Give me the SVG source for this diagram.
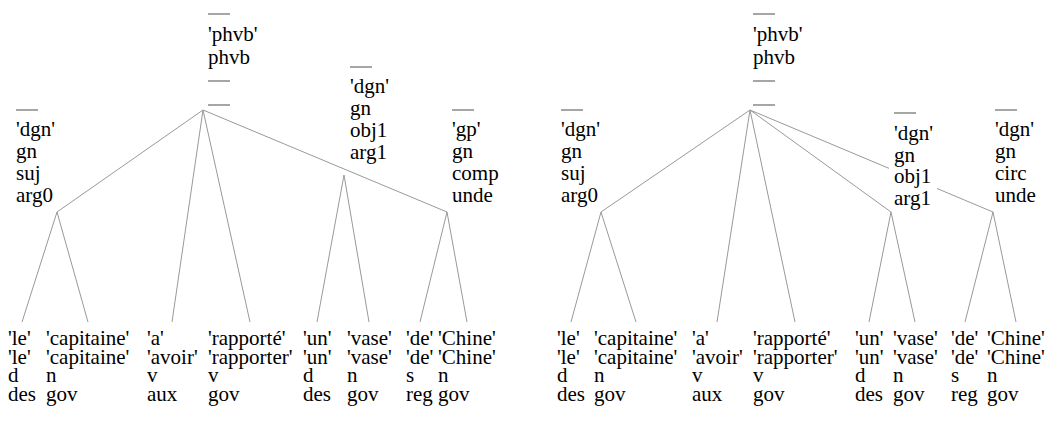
<svg xmlns="http://www.w3.org/2000/svg" width="1046" height="429" viewBox="0 0 1046 429">
  <style>
    text { font-family: "Liberation Serif", "Times New Roman", serif; font-size: 21px; fill: #000; }
    .edge { stroke: #999; stroke-width: 1; fill: none; }
    .bar { stroke: #888; stroke-width: 1.5; }
    .bg { fill: #fff; }
  </style>
  <rect width="1046" height="429" fill="#fff"/>

  <!-- tree edges: each leaf hangs from the middle of its label block -->
  <g id="connectors">
    <!-- left tree -->
    <path class="edge" d="M203,110 L57,212 M203,110 L172,322 M203,110 L250,322 M203,110 L447,212"/>
    <path class="edge" d="M57,212 L22,322 M57,212 L88,322"/>
    <path class="edge" d="M344,175 L317,322 M344,175 L369,322"/>
    <path class="edge" d="M447,212 L420,322 M447,212 L467,322"/>
    <!-- right tree -->
    <path class="edge" d="M750,110 L601,212 M750,110 L717,322 M750,110 L795,322 M750,110 L891,212 M750,110 L993,212"/>
    <path class="edge" d="M601,212 L571,322 M601,212 L636,322"/>
    <path class="edge" d="M891,212 L869,322 M891,212 L915,322"/>
    <path class="edge" d="M993,212 L965,322 M993,212 L1016,322"/>
  </g>

  <!-- left tree: inner nodes -->
  <g id="L-phvb">
    <line class="bar" x1="208" y1="14" x2="230" y2="14"/>
    <text x="208" y="41">'phvb'<tspan x="208" dy="23">phvb</tspan></text>
    <line class="bar" x1="208" y1="81" x2="230" y2="81"/>
    <line class="bar" x1="208" y1="105" x2="230" y2="105"/>
  </g>
  <g id="L-dgn-suj">
    <line class="bar" x1="16" y1="110" x2="38" y2="110"/>
    <text x="16" y="136">'dgn'<tspan x="16" dy="22">gn</tspan><tspan x="16" dy="22">suj</tspan><tspan x="16" dy="22">arg0</tspan></text>
  </g>
  <g id="L-dgn-obj1">
    <line class="bar" x1="350" y1="67" x2="372" y2="67"/>
    <text x="350" y="93">'dgn'<tspan x="350" dy="22">gn</tspan><tspan x="350" dy="22">obj1</tspan><tspan x="350" dy="22">arg1</tspan></text>
  </g>
  <g id="L-gp-comp">
    <line class="bar" x1="452" y1="110" x2="474" y2="110"/>
    <text x="452" y="136">'gp'<tspan x="452" dy="22">gn</tspan><tspan x="452" dy="22">comp</tspan><tspan x="452" dy="22">unde</tspan></text>
  </g>

  <!-- left tree: leaves -->
  <g id="L-le"><text x="8" y="345">'le'<tspan x="8" dy="18.5">'le'</tspan><tspan x="8" dy="18.5">d</tspan><tspan x="8" dy="18.5">des</tspan></text></g>
  <g id="L-capitaine"><text x="46" y="345">'capitaine'<tspan x="46" dy="18.5">'capitaine'</tspan><tspan x="46" dy="18.5">n</tspan><tspan x="46" dy="18.5">gov</tspan></text></g>
  <g id="L-a"><text x="147" y="345">'a'<tspan x="147" dy="18.5">'avoir'</tspan><tspan x="147" dy="18.5">v</tspan><tspan x="147" dy="18.5">aux</tspan></text></g>
  <g id="L-rapporte"><text x="208" y="345">'rapporté'<tspan x="208" dy="18.5">'rapporter'</tspan><tspan x="208" dy="18.5">v</tspan><tspan x="208" dy="18.5">gov</tspan></text></g>
  <g id="L-un"><text x="303" y="345">'un'<tspan x="303" dy="18.5">'un'</tspan><tspan x="303" dy="18.5">d</tspan><tspan x="303" dy="18.5">des</tspan></text></g>
  <g id="L-vase"><text x="347" y="345">'vase'<tspan x="347" dy="18.5">'vase'</tspan><tspan x="347" dy="18.5">n</tspan><tspan x="347" dy="18.5">gov</tspan></text></g>
  <g id="L-de"><text x="406" y="345">'de'<tspan x="406" dy="18.5">'de'</tspan><tspan x="406" dy="18.5">s</tspan><tspan x="406" dy="18.5">reg</tspan></text></g>
  <g id="L-Chine"><text x="438" y="345">'Chine'<tspan x="438" dy="18.5">'Chine'</tspan><tspan x="438" dy="18.5">n</tspan><tspan x="438" dy="18.5">gov</tspan></text></g>

  <!-- right tree: inner nodes -->
  <g id="R-phvb">
    <line class="bar" x1="753" y1="14" x2="775" y2="14"/>
    <text x="753" y="41">'phvb'<tspan x="753" dy="23">phvb</tspan></text>
    <line class="bar" x1="753" y1="81" x2="775" y2="81"/>
    <line class="bar" x1="753" y1="105" x2="775" y2="105"/>
  </g>
  <g id="R-dgn-suj">
    <line class="bar" x1="561" y1="110" x2="583" y2="110"/>
    <text x="561" y="136">'dgn'<tspan x="561" dy="22">gn</tspan><tspan x="561" dy="22">suj</tspan><tspan x="561" dy="22">arg0</tspan></text>
  </g>
  <g id="R-dgn-obj1">
    <!-- opaque label box: hides the edge running behind it to the circ node -->
    <rect class="bg" x="889" y="104" width="48" height="104"/>
    <line class="bar" x1="894" y1="113" x2="916" y2="113"/>
    <text x="894" y="140">'dgn'<tspan x="894" dy="21.5">gn</tspan><tspan x="894" dy="21.5">obj1</tspan><tspan x="894" dy="21.5">arg1</tspan></text>
  </g>
  <g id="R-dgn-circ">
    <line class="bar" x1="995" y1="110" x2="1017" y2="110"/>
    <text x="995" y="136">'dgn'<tspan x="995" dy="22">gn</tspan><tspan x="995" dy="22">circ</tspan><tspan x="995" dy="22">unde</tspan></text>
  </g>

  <!-- right tree: leaves -->
  <g id="R-le"><text x="557" y="345">'le'<tspan x="557" dy="18.5">'le'</tspan><tspan x="557" dy="18.5">d</tspan><tspan x="557" dy="18.5">des</tspan></text></g>
  <g id="R-capitaine"><text x="594" y="345">'capitaine'<tspan x="594" dy="18.5">'capitaine'</tspan><tspan x="594" dy="18.5">n</tspan><tspan x="594" dy="18.5">gov</tspan></text></g>
  <g id="R-a"><text x="692" y="345">'a'<tspan x="692" dy="18.5">'avoir'</tspan><tspan x="692" dy="18.5">v</tspan><tspan x="692" dy="18.5">aux</tspan></text></g>
  <g id="R-rapporte"><text x="753" y="345">'rapporté'<tspan x="753" dy="18.5">'rapporter'</tspan><tspan x="753" dy="18.5">v</tspan><tspan x="753" dy="18.5">gov</tspan></text></g>
  <g id="R-un"><text x="855" y="345">'un'<tspan x="855" dy="18.5">'un'</tspan><tspan x="855" dy="18.5">d</tspan><tspan x="855" dy="18.5">des</tspan></text></g>
  <g id="R-vase"><text x="893" y="345">'vase'<tspan x="893" dy="18.5">'vase'</tspan><tspan x="893" dy="18.5">n</tspan><tspan x="893" dy="18.5">gov</tspan></text></g>
  <g id="R-de"><text x="951" y="345">'de'<tspan x="951" dy="18.5">'de'</tspan><tspan x="951" dy="18.5">s</tspan><tspan x="951" dy="18.5">reg</tspan></text></g>
  <g id="R-Chine"><text x="987" y="345">'Chine'<tspan x="987" dy="18.5">'Chine'</tspan><tspan x="987" dy="18.5">n</tspan><tspan x="987" dy="18.5">gov</tspan></text></g>
</svg>
